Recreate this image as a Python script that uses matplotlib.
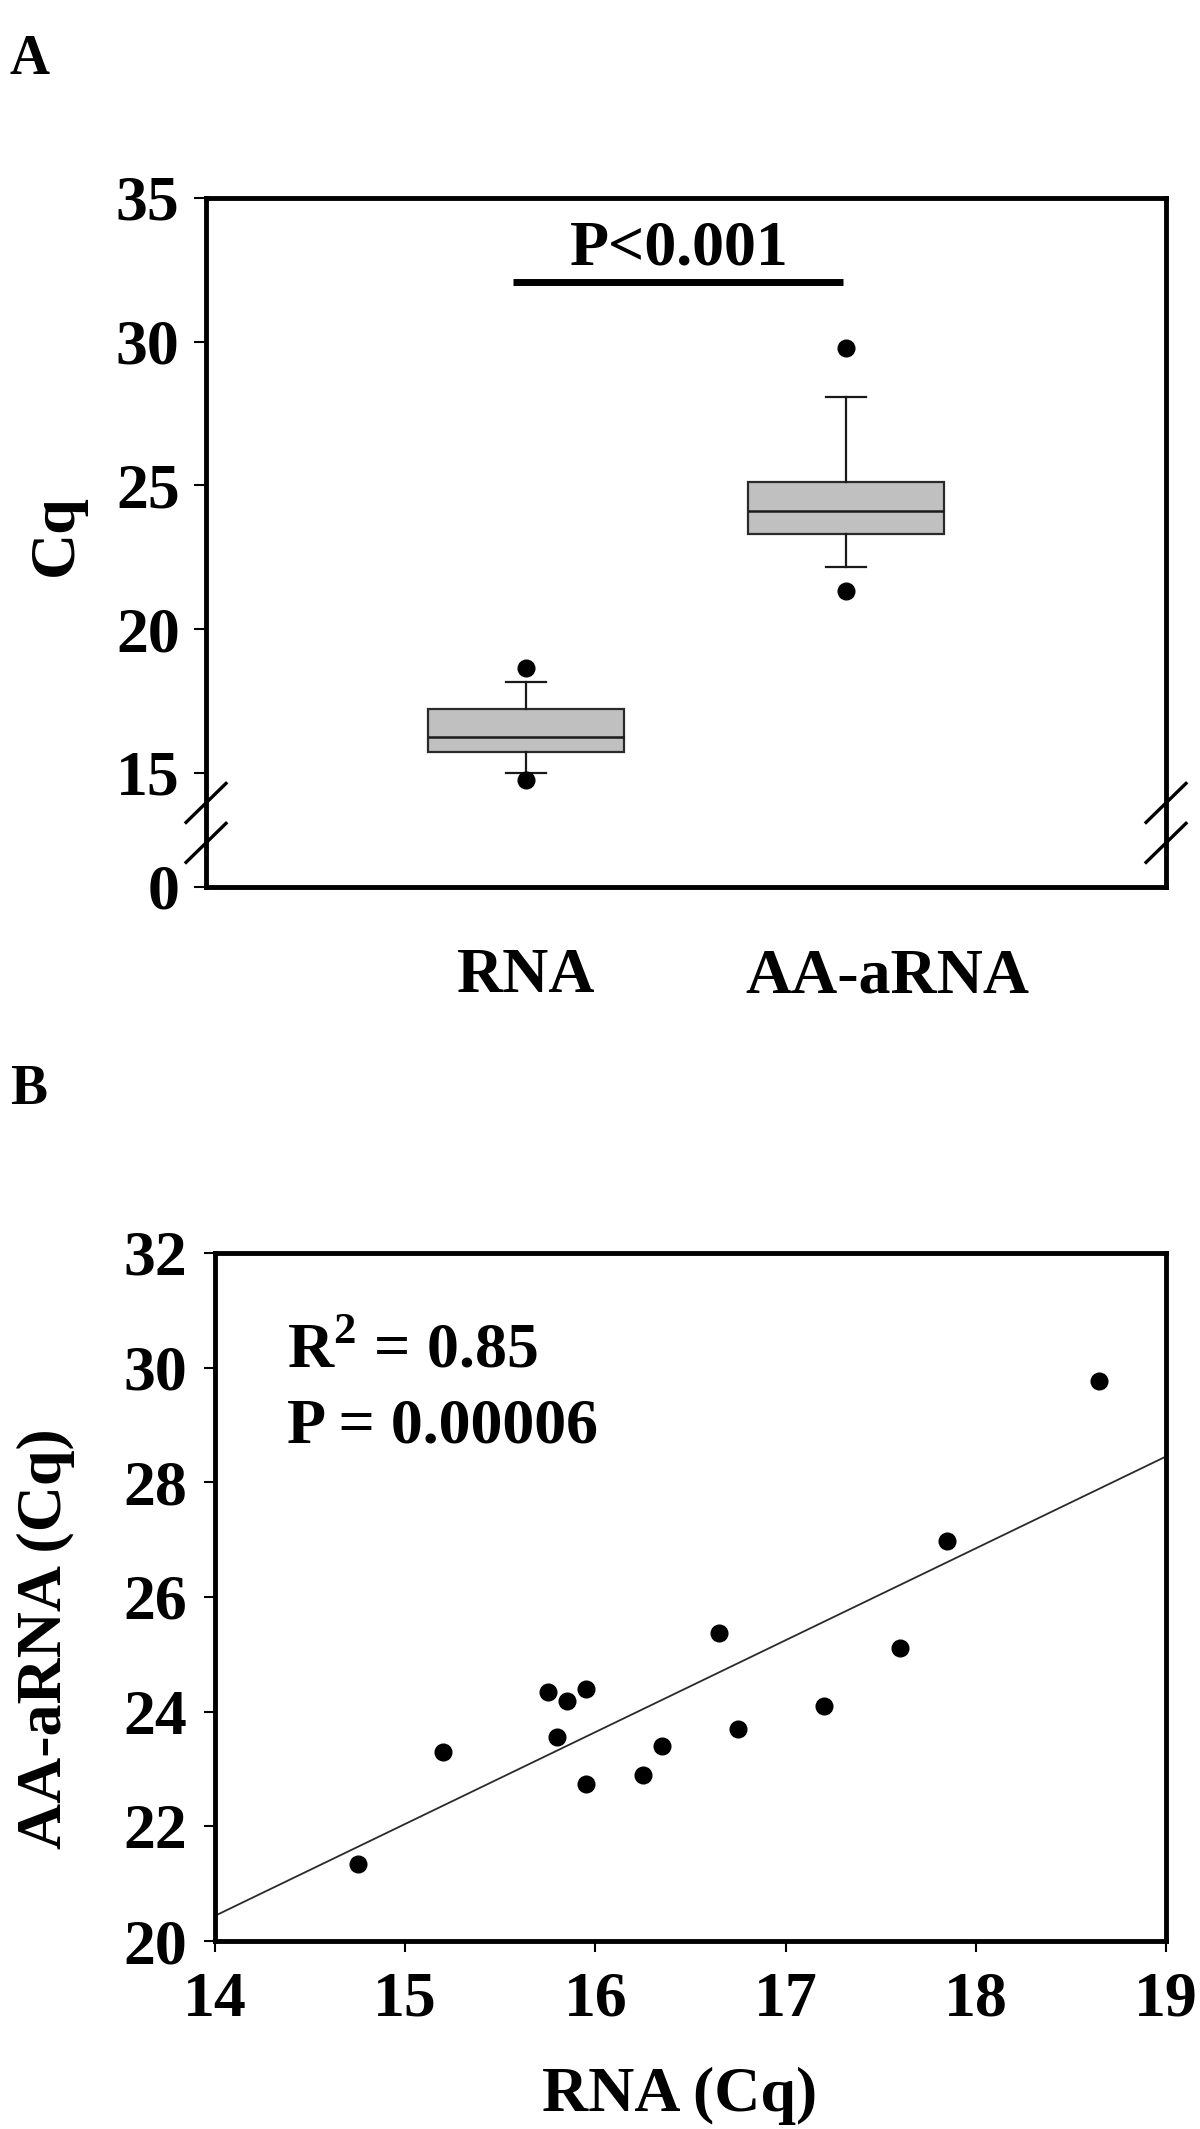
import matplotlib
matplotlib.use('Agg')
import matplotlib.pyplot as plt
from matplotlib.transforms import ScaledTranslation

plt.rcParams['font.family'] = ['Liberation Serif', 'DejaVu Serif']
plt.rcParams['font.weight'] = 'bold'
plt.rcParams['axes.labelweight'] = 'bold'
plt.rcParams['mathtext.fontset'] = 'custom'
plt.rcParams['mathtext.rm'] = 'Liberation Serif:bold'
plt.rcParams['mathtext.bf'] = 'Liberation Serif:bold'

# ---- Panel A: box plot summary ----
groups = ['RNA', 'AA-aRNA']
q1 = [15.73, 23.31]
medians = [16.25, 24.11]
q3 = [17.23, 25.12]
whis_lo = [15.0, 22.17]
whis_hi = [18.17, 28.08]
outliers = [[18.65, 14.76], [29.78, 21.33]]
yticks_a = [0, 15, 20, 25, 30, 35]
p_text_a = 'P<0.001'

# ---- Panel B: scatter RNA vs AA-aRNA ----
rna_cq = [14.75, 15.20, 15.75, 15.80, 15.85, 15.95, 15.95, 16.25,
          16.35, 16.65, 16.75, 17.20, 17.60, 17.85, 18.65]
aarna_cq = [21.34, 23.30, 24.34, 23.55, 24.19, 24.40, 22.74, 22.89,
            23.40, 25.37, 23.70, 24.10, 25.11, 26.97, 29.77]
fit_x = [14, 19]
fit_y = [20.44, 28.45]
xticks_b = [14, 15, 16, 17, 18, 19]
yticks_b = [20, 22, 24, 26, 28, 30, 32]

FS = 46
fig = plt.figure(figsize=(12, 21.29), dpi=100)

# =========== Panel A ===========
ax1 = fig.add_axes([0.1717, 0.5834, 0.8, 0.3236])
zero_pos = 11.03  # where the "0" sits below the axis break

stats = []
for i in range(len(groups)):
    stats.append(dict(med=medians[i], q1=q1[i], q3=q3[i],
                      whislo=whis_lo[i], whishi=whis_hi[i],
                      fliers=outliers[i], label=groups[i]))

ax1.bxp(stats, positions=[1, 2], widths=0.61, capwidths=0.125,
        patch_artist=True,
        boxprops=dict(facecolor='#c0c0c0', edgecolor='#2a2a2a', linewidth=1.6),
        medianprops=dict(color='#1a1a1a', linewidth=1.8),
        whiskerprops=dict(color='#1a1a1a', linewidth=1.6),
        capprops=dict(color='#1a1a1a', linewidth=1.6),
        flierprops=dict(marker='o', markerfacecolor='black',
                        markeredgecolor='black', markersize=12))

ax1.set_xlim(0, 3)
ax1.set_ylim(zero_pos, 35)
ax1.set_yticks([zero_pos] + yticks_a[1:])
ax1.set_yticklabels([str(v) for v in yticks_a], fontsize=FS)
ax1.set_xticks([1, 2])
ax1.set_xticklabels(groups, fontsize=FS)
ax1.tick_params(axis='y', direction='out', length=9, width=1.5, pad=10)
ax1.tick_params(axis='x', length=0, pad=44)
# the AA-aRNA label sits slightly right of its box in the original
lbl = ax1.get_xticklabels()[1]
lbl.set_transform(lbl.get_transform() + ScaledTranslation(0.41, 0, fig.dpi_scale_trans))

for s in ax1.spines.values():
    s.set_linewidth(3.5)

ax1.set_ylabel('Cq', fontsize=FS, va='center')
ax1.yaxis.set_label_coords(-0.155, 0.51)

# significance bar
ax1.plot([0.96, 1.99], [32.08, 32.08], color='black', linewidth=5,
         solid_capstyle='butt')
ax1.text(1.478, 32.67, p_text_a, ha='center', va='baseline', fontsize=FS)

# axis break marks
dx, dy = 0.0208, 0.0283
for xb in (0, 1):
    for yb in (0.122, 0.064):
        ax1.plot([xb - dx, xb + dx], [yb - dy, yb + dy], color='black',
                 linewidth=2.4, transform=ax1.transAxes, clip_on=False)

fig.text(0.008, 0.984, 'A', fontsize=40, ha='left', va='top')

# =========== Panel B ===========
ax2 = fig.add_axes([0.1792, 0.0883, 0.7925, 0.3232])
ax2.plot(fit_x, fit_y, color='#2a2a2a', linewidth=1.3)
ax2.plot(rna_cq, aarna_cq, 'o', color='black', markersize=12)

ax2.set_xlim(14, 19)
ax2.set_ylim(20, 32)
ax2.set_xticks(xticks_b)
ax2.set_yticks(yticks_b)
ax2.set_xticklabels([str(v) for v in xticks_b], fontsize=FS)
ax2.set_yticklabels([str(v) for v in yticks_b], fontsize=FS)
ax2.tick_params(axis='both', direction='out', length=8, width=1.5)
ax2.tick_params(axis='x', pad=14)
ax2.tick_params(axis='y', pad=12)
for s in ax2.spines.values():
    s.set_linewidth(3.5)

ax2.set_xlabel('RNA (Cq)', fontsize=FS, va='baseline')
ax2.xaxis.set_label_coords(0.488, -0.247)
ax2.set_ylabel('AA-aRNA (Cq)', fontsize=FS, va='center')
ax2.yaxis.set_label_coords(-0.178, 0.44)

ax2.text(14.38, 30.0, r'R$^{\mathbf{2}}$ = 0.85', fontsize=FS, va='baseline')
ax2.text(14.38, 28.70, 'P = 0.00006', fontsize=FS, va='baseline')

fig.text(0.008, 0.500, 'B', fontsize=40, ha='left', va='top')

fig.savefig('out.png', dpi=100)
